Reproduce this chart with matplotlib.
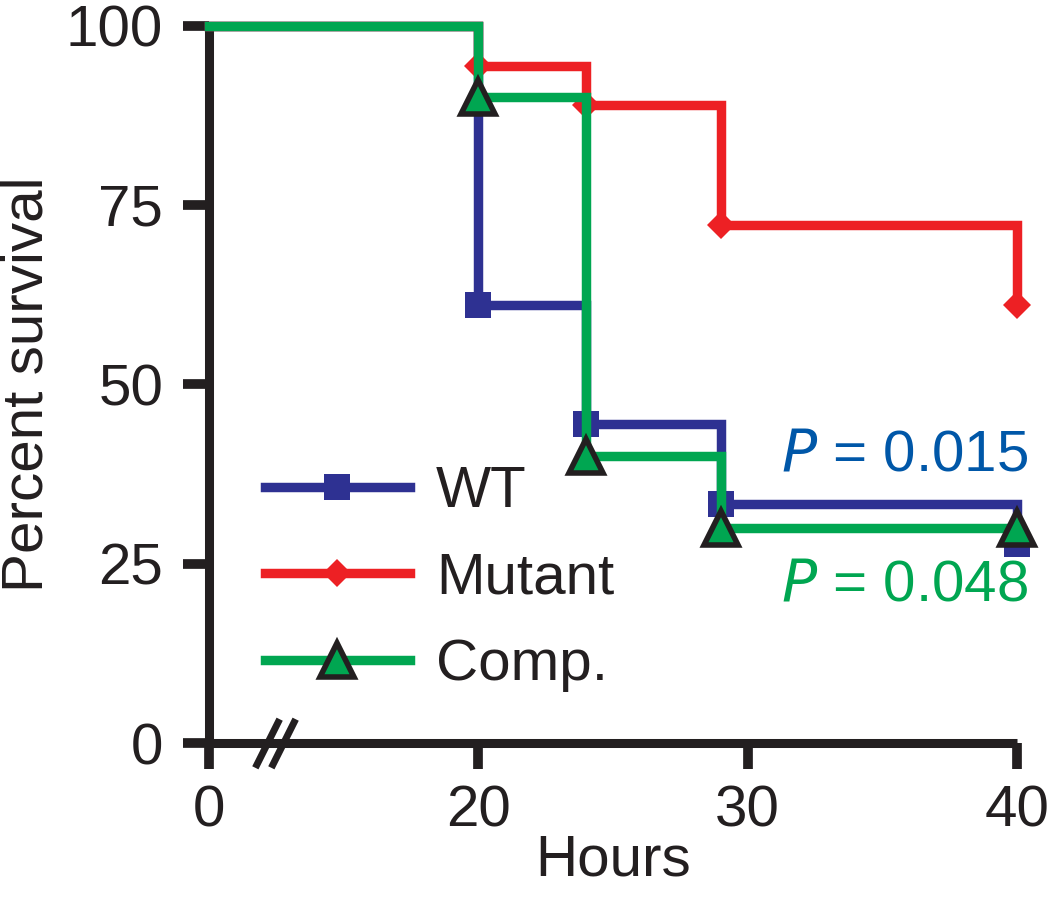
import numpy as np
import matplotlib
matplotlib.use("Agg")
import matplotlib.pyplot as plt
from matplotlib.path import Path

plt.rcParams['font.family'] = ['Liberation Sans', 'DejaVu Sans']

# ---- data ----
hours = [0, 20, 24, 29, 40]
wt = [100, 61.1, 44.4, 33.3, 27.8]
mutant = [100, 94.4, 88.9, 72.2, 61.1]
comp = [100, 90, 40, 30, 30]
labels = ['WT', 'Mutant', 'Comp.']
xticks = [0, 20, 30, 40]
yticks = [0, 25, 50, 75, 100]
p_texts = ['0.015', '0.048']

c_blue = '#2E3192'
c_red = '#ED2024'
c_green = '#00A651'
c_pblue = '#0057A8'

fig = plt.figure(figsize=(10.5, 8.99), dpi=100)
ax = fig.add_axes([0.199, 0.1735, 0.7696, 0.798])

def fwd(x):
    x = np.asarray(x, dtype=float)
    return np.where(x < 20, x / 2.0, x - 10.0)

def inv(y):
    y = np.asarray(y, dtype=float)
    return np.where(y < 10, y * 2.0, y + 10.0)

ax.set_xscale('function', functions=(fwd, inv))
ax.set_xlim(0, 40)
ax.set_ylim(0, 100)

lw = 6.8
ax.step(hours, wt, where='post', color=c_blue, lw=lw, marker='s', ms=19,
        mec=c_blue, mew=0, markevery=[1, 2, 3, 4], clip_on=False, zorder=3,
        label=labels[0], solid_joinstyle='miter')
ax.step(hours, mutant, where='post', color=c_red, lw=lw, marker='D', ms=14,
        mec=c_red, mew=0, markevery=[1, 2, 3, 4], clip_on=False, zorder=4,
        label=labels[1], solid_joinstyle='miter')
ax.step(hours, comp, where='post', color=c_green, lw=lw, marker='^', ms=24,
        mfc=c_green, mec='#231F20', mew=4.0, markevery=[1, 2, 3, 4],
        clip_on=False, zorder=5, label=labels[2], solid_joinstyle='miter')

for s in ['top', 'right']:
    ax.spines[s].set_visible(False)
for s in ['left', 'bottom']:
    ax.spines[s].set_linewidth(6.5)
    ax.spines[s].set_color('#231F20')
    ax.spines[s].set_capstyle('butt')

ax.set_xticks(xticks)
ax.set_xticklabels([str(t) for t in xticks])
ax.set_yticks(yticks)
ax.set_yticklabels([str(t) for t in yticks])
ax.minorticks_off()
ax.tick_params(axis='both', direction='out', length=19, width=7,
               color='#231F20', labelsize=42, labelcolor='#231F20')
ax.tick_params(axis='y', pad=14)
ax.tick_params(axis='x', pad=11)

ax.set_xlabel('Hours', fontsize=42, color='#231F20', labelpad=-4)
ax.set_ylabel('Percent survival', fontsize=42, color='#231F20', labelpad=8)

# axis break marks
slash = Path([(-0.5, -1.0), (0.5, 1.0)], [Path.MOVETO, Path.LINETO])
ax.plot([4.3, 5.5], [0, 0], ls='none', marker=slash, ms=35, mew=5,
        mec='#231F20', clip_on=False, zorder=6)

leg = ax.legend(loc='center left', bbox_to_anchor=(0.069, 0.229),
                frameon=False, fontsize=42, handlelength=2.49,
                handletextpad=0.45, labelspacing=0.56, borderpad=0,
                borderaxespad=0, numpoints=1)
for t in leg.get_texts():
    t.set_color('#231F20')

ax.text(1.0136, 0.401, r'$\it{P}$ = ' + p_texts[0], transform=ax.transAxes,
        ha='right', va='center', fontsize=42, color=c_pblue)
ax.text(1.0136, 0.220, r'$\it{P}$ = ' + p_texts[1], transform=ax.transAxes,
        ha='right', va='center', fontsize=42, color=c_green)

fig.savefig('out.png', dpi=100)
